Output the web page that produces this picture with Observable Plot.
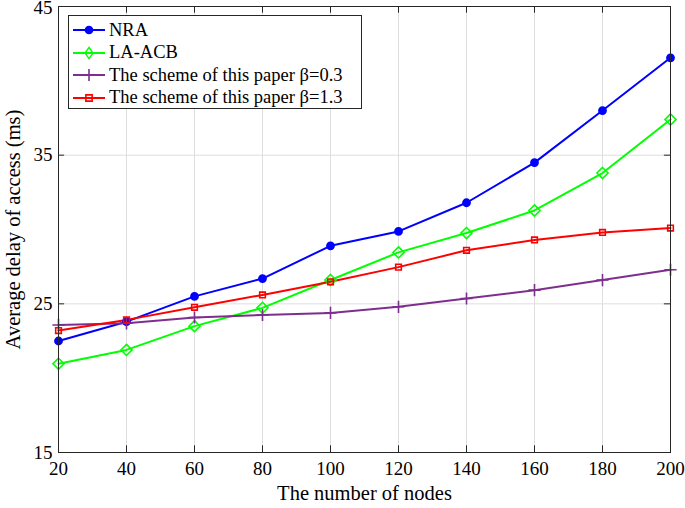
<!DOCTYPE html>
<html><head><meta charset="utf-8">
<script src="https://cdn.jsdelivr.net/npm/d3@7"></script>
<script src="https://cdn.jsdelivr.net/npm/@observablehq/plot@0.6"></script>
<style>
body{margin:0;background:#fff;}
#wrap{position:relative;width:685px;height:508px;font-family:"Liberation Serif","Times New Roman",serif;}
#legend{position:absolute;left:68px;top:15px;width:294px;height:94px;border:1px solid #262626;background:#fff;box-sizing:border-box;font-size:18.5px;}
.item{position:absolute;left:3px;height:22px;display:flex;align-items:center;}
.item svg{margin-right:3px;}
</style></head>
<body><div id="wrap"><div id="legend"></div></div>
<script>
const nodes = [20,40,60,80,100,120,140,160,180,200];
const nra = [22.5,23.8,25.5,26.7,28.9,29.87,31.8,34.5,38.0,41.55];
const laacb = [20.97,21.9,23.5,24.73,26.6,28.46,29.76,31.28,33.8,37.4];
const beta03 = [23.58,23.69,24.08,24.25,24.39,24.8,25.36,25.92,26.6,27.29];
const beta13 = [23.2,23.92,24.77,25.6,26.48,27.47,28.6,29.3,29.8,30.1];
const seriesNames = ["NRA","LA-ACB","The scheme of this paper β=0.3","The scheme of this paper β=1.3"];
const seriesColors = ["#0000ff","#00ff00","#7e2f8e","#ff0000"];
const seriesSymbols = ["circle","diamond2","plus","square2"];
const xTicks = [20,40,60,80,100,120,140,160,180,200];
const yTicks = [15,25,35,45];
const xLabel = "The number of nodes";
const yLabel = "Average delay of access (ms)";

const allSeries = [nra, laacb, beta03, beta13];
const data = allSeries.flatMap((vals,i)=>vals.map((v,j)=>({x:nodes[j], y:v, s:seriesNames[i]})));

const color = {domain: seriesNames, range: seriesColors};
const yMax = yTicks[yTicks.length-1];
const marks = [
  Plot.gridX(xTicks,{stroke:"#dedede",strokeOpacity:1}),
  Plot.gridY(yTicks,{stroke:"#dedede",strokeOpacity:1}),
  Plot.axisX(xTicks,{tickSize:0,tickPadding:9,label:null,fontSize:19,tickFormat:d=>String(d)}),
  Plot.axisY(yTicks.filter(t=>t!==yMax),{tickSize:0,tickPadding:6,label:null,fontSize:19}),
  Plot.axisY([yMax],{tickSize:0,tickPadding:6,label:null,fontSize:19,dy:1.5}),
  Plot.text([xLabel],{text:d=>d,frameAnchor:"bottom",textAnchor:"middle",dy:47,fontSize:20.5}),
  Plot.text([yLabel],{text:d=>d,frameAnchor:"left",textAnchor:"middle",rotate:-90,dx:-45,fontSize:20.5}),
  // inner ticks bottom/top/left/right
  Plot.ruleX(xTicks,{x:d=>d,y1:15,y2:15.45,stroke:"#262626"}),
  Plot.ruleX(xTicks,{x:d=>d,y1:44.55,y2:45,stroke:"#262626"}),
  Plot.ruleY(yTicks,{y:d=>d,x1:20,x2:21.8,stroke:"#262626"}),
  Plot.ruleY(yTicks,{y:d=>d,x1:198.2,x2:200,stroke:"#262626"}),
  Plot.line(data,{x:"x",y:"y",z:"s",stroke:"s",strokeWidth:2}),
];
allSeries.forEach((vals,i)=>{
  const d = data.filter(e=>e.s===seriesNames[i]);
  const filled = i===0;
  marks.push(Plot.dot(d,{x:"x",y:"y",symbol:()=>seriesSymbols[i],r: i===1?5:(i===2?4:3.6),
    stroke:seriesColors[i], fill: filled?seriesColors[i]:"none", strokeWidth:1.6}));
});
marks.push(Plot.frame({stroke:"#262626",strokeWidth:1}));

const chart = Plot.plot({
  width:685,height:508,
  marginLeft:58,marginRight:15,marginTop:6,marginBottom:56,
  x:{domain:[20,200],axis:null},
  y:{domain:[15,45],axis:null},
  color,
  symbol:{domain:seriesSymbols,range:seriesSymbols},
  style:{fontFamily:"Liberation Serif, Times New Roman, serif",fontSize:"18px",color:"#000",background:"#fff",overflow:"visible"},
  marks
});
document.getElementById("wrap").prepend(chart);

// legend
const lg = document.getElementById("legend");
seriesNames.forEach((n,i)=>{
  const it = document.createElement("div");
  it.className="item";
  it.style.top = (3 + i*22.6)+"px";
  const sym = d3.symbol().type({circle:d3.symbolCircle,diamond2:d3.symbolDiamond2,plus:d3.symbolPlus,square2:d3.symbolSquare2}[seriesSymbols[i]]).size(i===0?40:(i===1?64:50))();
  it.innerHTML = `<svg width="34" height="16"><line x1="1" x2="33" y1="8" y2="8" stroke="${seriesColors[i]}" stroke-width="2"/><path d="${sym}" transform="translate(17,8)${i===1?' scale(0.8,1.1)':''}" stroke="${seriesColors[i]}" fill="${i===0?seriesColors[i]:'none'}" stroke-width="1.6"/></svg><span>${n}</span>`;
  lg.appendChild(it);
});
</script></body></html>
